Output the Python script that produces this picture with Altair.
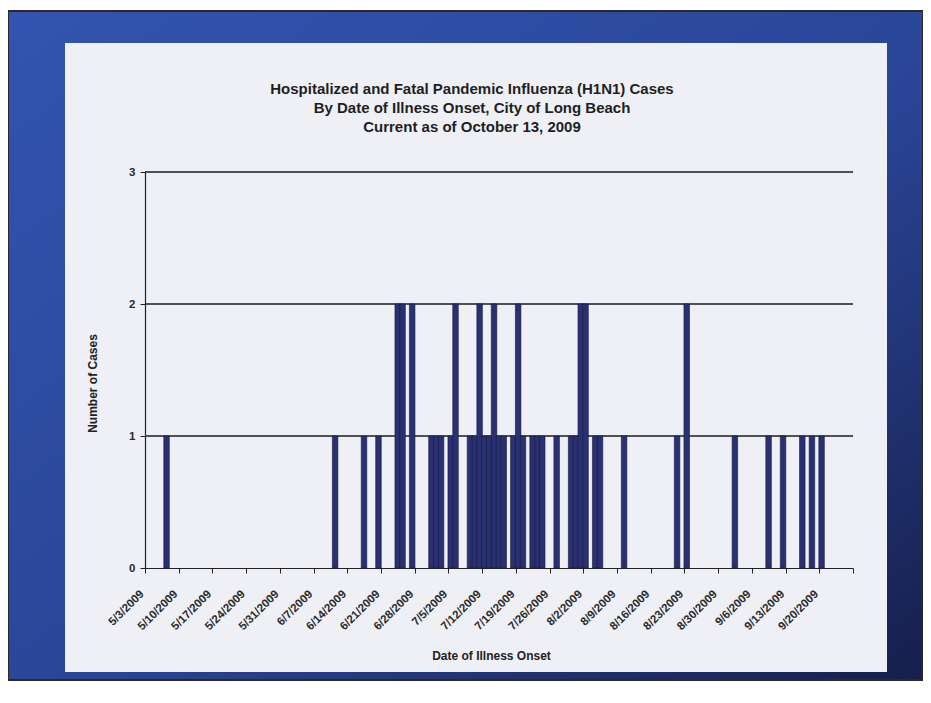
import altair as alt
import pandas as pd
from datetime import datetime, timezone

# ---- data ----
onset_dates = [
    "2009-05-07", "2009-06-11", "2009-06-17", "2009-06-20", "2009-06-24", "2009-06-25",
    "2009-06-27", "2009-07-01", "2009-07-02", "2009-07-03", "2009-07-05", "2009-07-06",
    "2009-07-09", "2009-07-10", "2009-07-11", "2009-07-12", "2009-07-13", "2009-07-14",
    "2009-07-15", "2009-07-16", "2009-07-18", "2009-07-19", "2009-07-20", "2009-07-22",
    "2009-07-23", "2009-07-24", "2009-07-27", "2009-07-30", "2009-07-31", "2009-08-01",
    "2009-08-02", "2009-08-04", "2009-08-05", "2009-08-10", "2009-08-21", "2009-08-23",
    "2009-09-02", "2009-09-09", "2009-09-12", "2009-09-16", "2009-09-18", "2009-09-20",
]
case_counts = [
    1, 1, 1, 1, 2, 2,
    2, 1, 1, 1, 1, 2,
    1, 1, 2, 1, 1, 2,
    1, 1, 1, 2, 1, 1,
    1, 1, 1, 1, 1, 2,
    2, 1, 1, 1, 1, 2,
    1, 1, 1, 1, 1, 1,
]
tick_dates = [
    "2009-05-03", "2009-05-10", "2009-05-17", "2009-05-24", "2009-05-31", "2009-06-07",
    "2009-06-14", "2009-06-21", "2009-06-28", "2009-07-05", "2009-07-12", "2009-07-19",
    "2009-07-26", "2009-08-02", "2009-08-09", "2009-08-16", "2009-08-23", "2009-08-30",
    "2009-09-06", "2009-09-13", "2009-09-20", "2009-09-27",
]
grid_levels = [1, 2, 3]
y_ticks = [0, 1, 2, 3]

title_lines = [
    "Hospitalized and Fatal Pandemic Influenza (H1N1) Cases",
    "By Date of Illness Onset, City of Long Beach",
    "Current as of October 13, 2009",
]

FONT = "Liberation Sans"
W, H = 708, 396
PAD = {"left": 137, "top": 164, "right": 70, "bottom": 120}


def to_dt(s):
    y, m, d = (int(v) for v in s.split("-"))
    return alt.DateTime(year=y, month=m, date=d, hours=0, utc=True)


def to_ms(s):
    y, m, d = (int(v) for v in s.split("-"))
    return int(datetime(y, m, d, tzinfo=timezone.utc).timestamp() * 1000)


last_ms = to_ms(tick_dates[-1])

bars_df = pd.DataFrame({"date": onset_dates, "cases": case_counts})
grid_df = pd.DataFrame({"cases": grid_levels})
one_df = pd.DataFrame({"k": [0]})

x_axis = alt.Axis(
    values=[to_dt(s) for s in tick_dates],
    labelExpr=f"datum.value >= {last_ms} ? '' : utcFormat(datum.value, '%-m/%-d/%Y')",
    labelAngle=-45,
    labelAlign="right",
    labelBaseline="middle",
    labelPadding=19,
    labelOffset=-3,
    labelFont=FONT,
    labelFontSize=11.5,
    labelFontWeight="bold",
    labelColor="#2a2a2a",
    labelOverlap=False,
    labelFlush=False,
    tickSize=5,
    tickColor="#222222",
    domainColor="#222222",
    domainWidth=1.2,
    grid=False,
    zindex=1,
    title="Date of Illness Onset",
    titleFont=FONT,
    titleFontSize=12,
    titleFontWeight="bold",
    titleColor="#222222",
    titleX=346,
    titleY=87,
    titleAlign="center",
    titleBaseline="middle",
)


def make_y_axis():
    return alt.Axis(
        values=y_ticks,
        format="d",
        labelFont=FONT,
        labelFontSize=11.5,
        labelFontWeight="bold",
        labelColor="#2a2a2a",
        labelPadding=5,
        tickSize=5,
        tickColor="#222222",
        domainColor="#222222",
        domainWidth=1.2,
        grid=False,
        zindex=1,
        title="Number of Cases",
        titleFont=FONT,
        titleFontSize=12,
        titleFontWeight="bold",
        titleColor="#222222",
        titleAngle=270,
        titleX=-53,
        titleY=211,
        titleAlign="center",
        titleBaseline="middle",
    )


bg_gradient = alt.Gradient(
    gradient="linear",
    stops=[
        alt.GradientStop(color="#3254b0", offset=0),
        alt.GradientStop(color="#2a4597", offset=0.55),
        alt.GradientStop(color="#161f4c", offset=1),
    ],
    x1=0, y1=0, x2=1, y2=1,
)

background = alt.Chart(one_df).mark_rect(fill=bg_gradient, stroke="#2a2a2a", strokeWidth=2).encode(
    x=alt.value(-PAD["left"]),
    x2=alt.value(W + PAD["right"]),
    y=alt.value(-PAD["top"] + 3),
    y2=alt.value(H + PAD["bottom"] - 8),
)

panel = alt.Chart(one_df).mark_rect(fill="#eef0f5").encode(
    x=alt.value(-80),
    x2=alt.value(742),
    y=alt.value(-129),
    y2=alt.value(500),
)

title_layers = []
for i, line in enumerate(title_lines):
    title_layers.append(
        alt.Chart(one_df).mark_text(
            font=FONT, fontSize=15, fontWeight="bold", color="#1f1f1f",
            align="center", baseline="middle",
        ).encode(
            text=alt.value(line),
            x=alt.value(327),
            y=alt.value(-83 + 19 * i),
        )
    )

y_scale = alt.Scale(domain=[0, 3])

rules = alt.Chart(grid_df).mark_rule(color="#1c1c1c", strokeWidth=1.3).encode(
    y=alt.Y("cases:Q", axis=make_y_axis(), scale=y_scale),
    x=alt.value(0),
    x2=alt.value(W),
)

bars = alt.Chart(bars_df).transform_calculate(
    x0="toDate(datum.date) - 0.1 * 86400000",
    x1="toDate(datum.date) + 1.05 * 86400000",
).mark_bar(color="#2a3172", stroke="#16183a", strokeWidth=0.6).encode(
    x=alt.X("x0:T", scale=alt.Scale(type="utc", domain=[to_dt(tick_dates[0]), to_dt(tick_dates[-1])]), axis=x_axis),
    x2="x1:T",
    y=alt.Y("cases:Q", scale=y_scale, axis=make_y_axis()),
    y2=alt.datum(0),
)

chart = alt.layer(background, panel, *title_layers, rules, bars).properties(
    width=W,
    height=H,
    autosize=alt.AutoSizeParams(type="none"),
    padding=PAD,
    background="white",
).configure_view(stroke=None)

chart.save("out.html", embed_options={"renderer": "svg", "actions": False})
